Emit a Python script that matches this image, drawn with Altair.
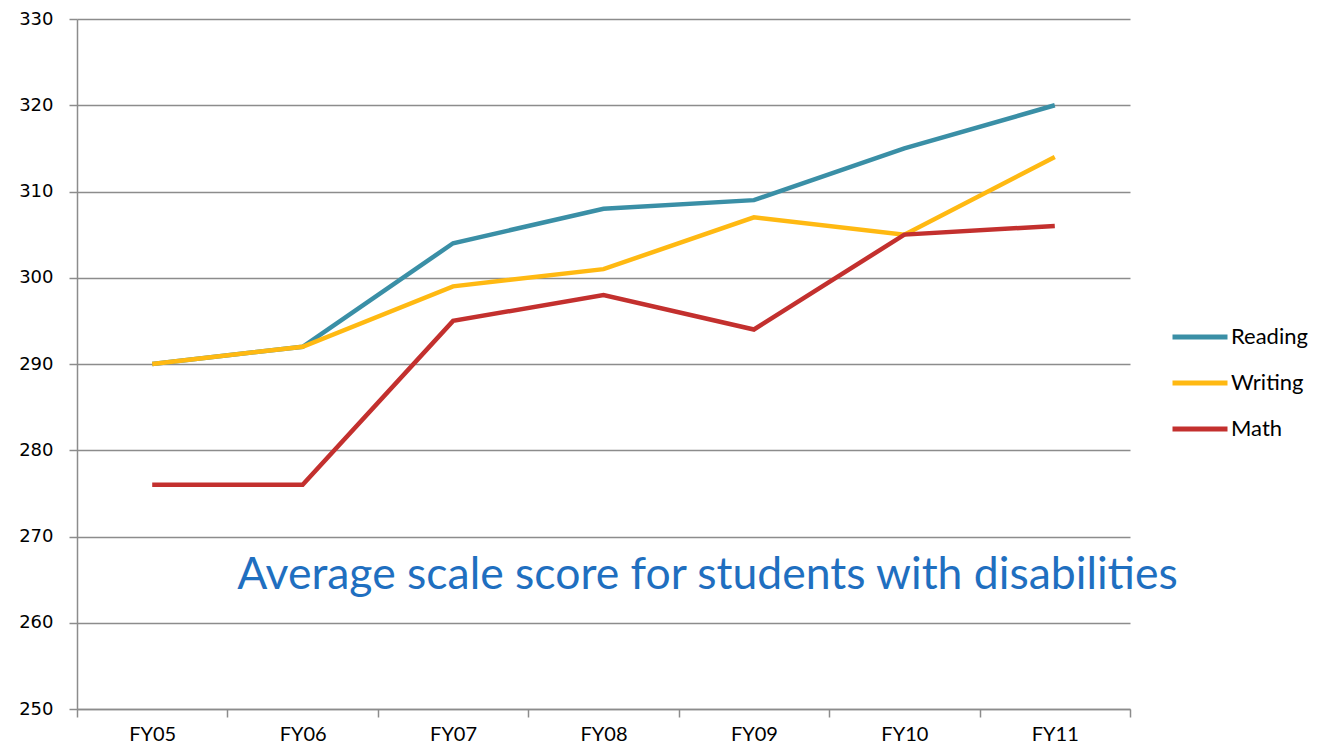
import altair as alt
import pandas as pd

years = ["FY05", "FY06", "FY07", "FY08", "FY09", "FY10", "FY11"]
reading = [290, 292, 304, 308, 309, 315, 320]
writing = [290, 292, 299, 301, 307, 305, 314]
math_ = [276, 276, 295, 298, 294, 305, 306]
series_names = ["Reading", "Writing", "Math"]
series_colors = ["#3A8FA6", "#FFB912", "#C3302E"]
note = "Average scale score for students with disabilities"

rows = []
for name, vals in zip(series_names, [reading, writing, math_]):
    for y, v in zip(years, vals):
        rows.append({"Year": y, "Score": v, "Subject": name})
df = pd.DataFrame(rows)

x = alt.X("Year:N", sort=years, scale=alt.Scale(type="band", domain=years, paddingInner=0, paddingOuter=0),
          axis=alt.Axis(title=None, labelAngle=0, tickBand="extent", grid=False,
                        labelFont="Lato", labelFontSize=20, labelColor="#000", labelPadding=7,
                        tickSize=8, tickColor="#8c8c8c", tickWidth=1.5,
                        domainColor="#8c8c8c", domainWidth=1.5))
y = alt.Y("Score:Q", scale=alt.Scale(domain=[250, 330], nice=False, zero=False),
          axis=alt.Axis(title=None, values=list(range(250, 331, 10)), grid=True,
                        gridColor="#8c8c8c", gridWidth=1.5, tickSize=8, tickColor="#8c8c8c", tickWidth=1.5,
                        domainColor="#8c8c8c", domainWidth=1.5,
                        labelFont="DejaVu Sans", labelFontSize=18, labelColor="#000", labelPadding=16))

lines = alt.Chart(df).mark_line(strokeWidth=4.5).encode(
    x=x, y=y,
    color=alt.Color("Subject:N", sort=series_names,
                    scale=alt.Scale(domain=series_names, range=series_colors),
                    legend=alt.Legend(title=None, orient="none", legendX=1093, legendY=288,
                                      symbolType="stroke", symbolSize=3025, symbolStrokeWidth=5,
                                      labelFont="Lato", labelFontSize=22, labelColor="#000",
                                      rowPadding=5, labelOffset=1))
)

ann = alt.Chart(pd.DataFrame({"t": [note], "Year": ["FY08"], "Score": [265.4]})).mark_text(
    font="Lato", fontSize=44.5, color="#1F6FC0", dx=104, align="center", baseline="middle"
).encode(x=alt.X("Year:N", sort=years), y="Score:Q", text="t:N")

chart = (lines + ann).properties(
    width=1053, height=690,
    autosize=alt.AutoSizeParams(type="none"),
    padding={"left": 69, "top": 11, "right": 181, "bottom": 37},
).configure_view(stroke=None)

chart.save("out.html", embed_options={"renderer": "svg", "actions": False})
